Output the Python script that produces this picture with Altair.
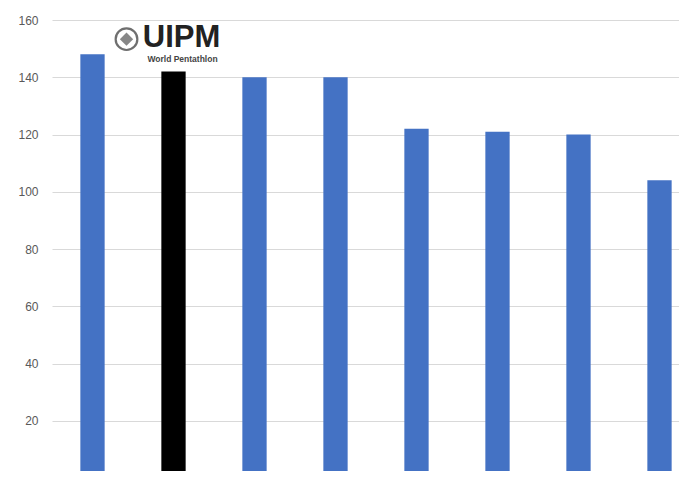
import altair as alt
import pandas as pd

categories = ["Cat 1", "UIPM", "Cat 3", "Cat 4", "Cat 5", "Cat 6", "Cat 7", "Cat 8"]
values = [148, 142, 140, 140, 122, 121, 120, 104]
colors = ["#4472C4", "#000000", "#4472C4", "#4472C4", "#4472C4", "#4472C4", "#4472C4", "#4472C4"]
y_ticks = [0, 20, 40, 60, 80, 100, 120, 140, 160]

df = pd.DataFrame({"cat": categories, "value": values, "color": colors})

xscale = alt.Scale(domain=categories, range=[0, 648], paddingInner=0.7, paddingOuter=0.35)
yscale = alt.Scale(domain=[0, 160], range=[458, 0], nice=False)

bars = alt.Chart(df).mark_bar().encode(
    x=alt.X("cat:N", scale=xscale, sort=categories, axis=None),
    y=alt.Y("value:Q", scale=yscale,
            axis=alt.Axis(values=y_ticks, title=None, ticks=False, domain=False,
                          labelColor="#595959", labelFontSize=12, labelFont="Liberation Sans",
                          labelPadding=14, gridColor="#d9d9d9", gridWidth=1.2)),
    color=alt.Color("color:N", scale=None),
)

logo_df = pd.DataFrame({"cat": ["UIPM"], "y1": [153.6], "y2": [146.3], "y3": [153.3]})

logo_text = alt.Chart(logo_df).mark_text(
    text="UIPM", fontSize=31, fontWeight="bold", font="Liberation Sans", color="#222222",
    dx=8, baseline="middle", align="center"
).encode(x=alt.X("cat:N", scale=xscale, sort=categories), y=alt.Y("y1:Q", scale=yscale))

logo_sub = alt.Chart(logo_df).mark_text(
    text="World Pentathlon", fontSize=8.5, fontWeight="bold", font="Liberation Sans", color="#444444",
    dx=9, baseline="middle", align="center"
).encode(x=alt.X("cat:N", scale=xscale, sort=categories), y=alt.Y("y2:Q", scale=yscale))

globe = alt.Chart(logo_df).mark_point(
    shape="circle", size=470, filled=False, stroke="#333333", strokeWidth=2.2, xOffset=-47
).encode(x=alt.X("cat:N", scale=xscale, sort=categories), y=alt.Y("y3:Q", scale=yscale))

globe_inner = alt.Chart(logo_df).mark_point(
    shape="diamond", size=110, filled=True, fill="#555555", stroke="#555555", xOffset=-47
).encode(x=alt.X("cat:N", scale=xscale, sort=categories), y=alt.Y("y3:Q", scale=yscale))

chart = alt.layer(bars, globe, globe_inner, logo_text, logo_sub).properties(
    width=627, height=451,
    autosize=alt.AutoSizeParams(type="none"),
    padding={"left": 44, "top": 12, "right": 0, "bottom": 0},
    background="white",
).configure_view(stroke=None)

chart.save("out.html", embed_options={"renderer": "svg", "actions": False})
